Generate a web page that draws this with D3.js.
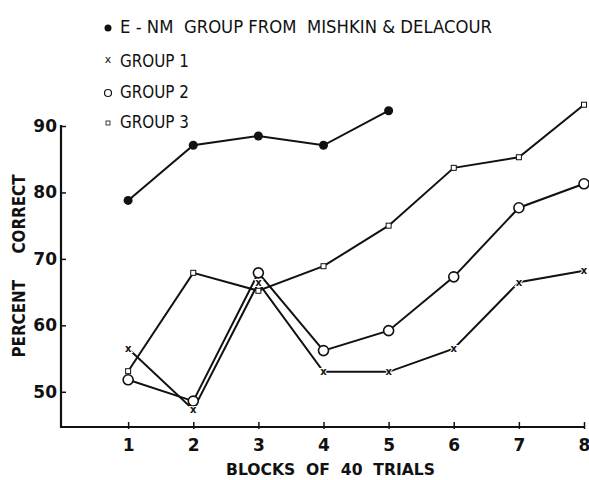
<!DOCTYPE html>
<html>
<head>
<meta charset="utf-8">
<script src="https://cdn.jsdelivr.net/npm/d3@7"></script>
<style>
  body { margin: 0; background: #fff; }
  text { font-family: "DejaVu Sans", sans-serif; fill: #111; }
</style>
</head>
<body>
<div id="chart"></div>
<script>
// data
var blocks = [1, 2, 3, 4, 5, 6, 7, 8]
var enm    = [78.8, 87.1, 88.5, 87.1, 92.3]
var group1 = [56.5, 47.3, 66.4, 53.0, 53.0, 56.5, 66.5, 68.2]
var group2 = [51.8, 48.6, 67.9, 56.2, 59.2, 67.3, 77.7, 81.3]
var group3 = [53.1, 67.9, 65.2, 68.9, 75.0, 83.7, 85.3, 93.2]
var yTicks = [50, 60, 70, 80, 90]
var legendLabels = ["E - NM  GROUP FROM  MISHKIN & DELACOUR", "GROUP 1", "GROUP 2", "GROUP 3"]

var width = 589
var height = 480

var svg = d3.select("#chart")
  .append("svg")
    .attr("width", width)
    .attr("height", height)

var x = d3.scaleLinear()
  .domain([0, 8])
  .range([63, 584])

var y = d3.scaleLinear()
  .domain([44.7, 90])
  .range([427, 126])

// axes
var xAxis = svg.append("g")
  .attr("transform", "translate(0," + y(44.7) + ")")
  .call(d3.axisBottom(x).tickValues(blocks).tickSize(0).tickPadding(12))
xAxis.select(".domain").remove()
xAxis.selectAll("text")
  .style("font-size", "17px")
  .style("font-weight", "bold")
xAxis.append("line")
  .attr("x1", 61).attr("x2", 585)
  .attr("stroke", "#111").attr("stroke-width", 2.2)
xAxis.selectAll(".tick").append("line")
  .attr("y1", -5).attr("y2", 2)
  .attr("stroke", "#111").attr("stroke-width", 1.5)

var yAxis = svg.append("g")
  .attr("transform", "translate(61,0)")
  .call(d3.axisRight(y).tickValues(yTicks).tickSize(5))
yAxis.select(".domain").remove()
yAxis.append("line")
  .attr("y1", y(90) - 1).attr("y2", y(44.7) + 1)
  .attr("stroke", "#111").attr("stroke-width", 2.2)
yAxis.selectAll(".tick line").attr("stroke", "#111").attr("stroke-width", 1.5)
yAxis.selectAll(".tick text")
  .attr("x", -4)
  .attr("text-anchor", "end")
  .style("font-size", "17px")
  .style("font-weight", "bold")

// axis titles
svg.append("text")
  .attr("transform", "translate(25,266) rotate(-90)")
  .attr("text-anchor", "middle")
  .attr("textLength", 183)
  .attr("lengthAdjust", "spacingAndGlyphs")
  .style("font-size", "17px")
  .style("font-weight", "bold")
  .style("white-space", "pre")
  .text("PERCENT     CORRECT")

svg.append("text")
  .attr("x", 226)
  .attr("y", 475)
  .attr("textLength", 209)
  .attr("lengthAdjust", "spacingAndGlyphs")
  .style("font-size", "16px")
  .style("font-weight", "bold")
  .style("white-space", "pre")
  .text("BLOCKS  OF  40  TRIALS")

// lines
var line = d3.line()
  .x(function(d, i){ return x(blocks[i]) })
  .y(function(d){ return y(d) })

var series = [enm, group1, group2, group3]
series.forEach(function(s){
  svg.append("path")
    .datum(s)
    .attr("d", line)
    .attr("fill", "none")
    .attr("stroke", "#111")
    .attr("stroke-width", 2)
})

// markers
svg.selectAll(".enm")
  .data(enm)
  .enter()
  .append("circle")
    .attr("cx", function(d, i){ return x(blocks[i]) })
    .attr("cy", function(d){ return y(d) })
    .attr("r", 4.5)
    .attr("fill", "#111")

svg.selectAll(".g2")
  .data(group2)
  .enter()
  .append("circle")
    .attr("cx", function(d, i){ return x(blocks[i]) })
    .attr("cy", function(d){ return y(d) })
    .attr("r", 5)
    .attr("fill", "#fff")
    .attr("stroke", "#111")
    .attr("stroke-width", 1.6)

svg.selectAll(".g3")
  .data(group3)
  .enter()
  .append("rect")
    .attr("x", function(d, i){ return x(blocks[i]) - 2.5 })
    .attr("y", function(d){ return y(d) - 2.5 })
    .attr("width", 5)
    .attr("height", 5)
    .attr("fill", "#fff")
    .attr("stroke", "#111")
    .attr("stroke-width", 1)

svg.selectAll(".g1")
  .data(group1)
  .enter()
  .append("text")
    .attr("x", function(d, i){ return x(blocks[i]) })
    .attr("y", function(d){ return y(d) })
    .attr("text-anchor", "middle")
    .attr("dominant-baseline", "central")
    .style("font-size", "10px")
    .style("font-weight", "bold")
    .style("paint-order", "stroke")
    .style("stroke", "#fff")
    .style("stroke-width", 2)
    .text("x")

// legend
var legendY = [27, 61, 92, 122]
var legendW = [372, 69, 69, 69]
legendLabels.forEach(function(t, i){
  svg.append("text")
    .attr("x", 120)
    .attr("y", legendY[i])
    .attr("dominant-baseline", "central")
    .attr("textLength", legendW[i])
    .attr("lengthAdjust", "spacingAndGlyphs")
    .style("font-size", "17px")
    .style("white-space", "pre")
    .text(t)
})
svg.append("circle")
  .attr("cx", 108).attr("cy", legendY[0] + 1).attr("r", 3.5).attr("fill", "#111")
svg.append("text")
  .attr("x", 108).attr("y", legendY[1] - 2)
  .attr("text-anchor", "middle")
  .attr("dominant-baseline", "central")
  .style("font-size", "11px")
  .text("x")
svg.append("circle")
  .attr("cx", 108).attr("cy", legendY[2] + 1).attr("r", 3.5)
  .attr("fill", "none").attr("stroke", "#111").attr("stroke-width", 1.2)
svg.append("rect")
  .attr("x", 106).attr("y", legendY[3] - 1).attr("width", 4).attr("height", 4)
  .attr("fill", "none").attr("stroke", "#111").attr("stroke-width", 0.8)
</script>
</body>
</html>
